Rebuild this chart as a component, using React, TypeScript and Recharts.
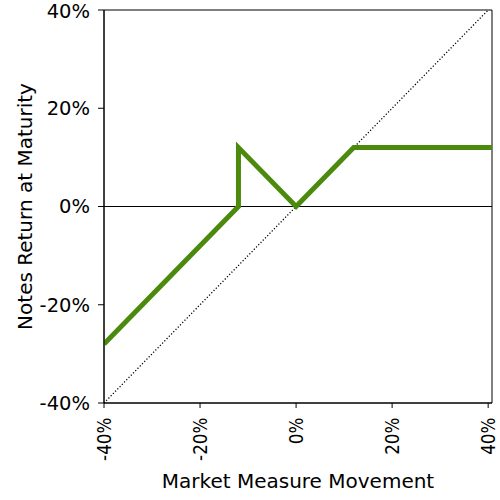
import {
  Label,
  Line,
  LineChart,
  ReferenceArea,
  ReferenceLine,
  XAxis,
  YAxis,
} from 'recharts';

const marketMove = [-40, -12, -12, 0, 12, 40.8];
const notesReturn = [-28, 0, 12, 0, 12, 12];
const axisTicks = [-40, -20, 0, 20, 40];

const data = marketMove.map((x, i) => ({ x, y: notesReturn[i] }));

const FONT = '"DejaVu Sans", sans-serif';

// rotated labels in the source are a bit squeezed along their length
function XTick({ x, y, payload }: any) {
  return (
    <g transform={`translate(${x},${y})`}>
      <text
        transform="rotate(-90) scale(0.84,1)"
        textAnchor="end"
        dy="0.36em"
        x={-9}
        fontSize={20}
        fontFamily={FONT}
        fill="#000"
      >
        {`${payload.value}%`}
      </text>
    </g>
  );
}

export default function App() {
  return (
    <div style={{ position: 'absolute', left: 0, top: 0, background: '#fff' }}>
      <LineChart
        width={500}
        height={500}
        data={data}
        margin={{ top: 10, right: 8, left: 0, bottom: 0 }}
      >
        <XAxis
          type="number"
          dataKey="x"
          domain={[-40, 40.8]}
          ticks={axisTicks}
          allowDataOverflow
          height={97}
          tickSize={5}
          tickLine={{ stroke: '#000' }}
          axisLine={{ stroke: '#000' }}
          tick={<XTick />}
        >
          <Label
            content={({ viewBox }: any) => (
              <text
                x={viewBox.x + viewBox.width / 2}
                y={488}
                textAnchor="middle"
                fontSize={20}
                fontFamily={FONT}
                fill="#000"
              >
                Market Measure Movement
              </text>
            )}
          />
        </XAxis>
        <YAxis
          type="number"
          domain={[-40, 40]}
          ticks={axisTicks}
          width={104}
          tickSize={6}
          tickMargin={8}
          tickLine={{ stroke: '#000' }}
          axisLine={{ stroke: '#000' }}
          tickFormatter={(v: number) => `${v}%`}
          tick={{ fill: '#000', fontSize: 19.5, fontFamily: FONT }}
        >
          <Label
            content={({ viewBox }: any) => {
              const cy = viewBox.y + viewBox.height / 2;
              return (
                <text
                  transform={`translate(32,${cy}) rotate(-90)`}
                  textAnchor="middle"
                  fontSize={20}
                  fontFamily={FONT}
                  fill="#000"
                >
                  Notes Return at Maturity
                </text>
              );
            }}
          />
        </YAxis>
        <ReferenceArea
          x1={-40}
          x2={40.8}
          y1={-40}
          y2={40}
          fill="none"
          stroke="#000"
          strokeWidth={1}
          fillOpacity={0}
          ifOverflow="visible"
        />
        <ReferenceLine y={0} stroke="#000" strokeWidth={1} />
        <ReferenceLine
          segment={[
            { x: -40, y: -40 },
            { x: 40, y: 40 },
          ]}
          stroke="#000"
          strokeWidth={1.3}
          strokeDasharray="1.2 2"
        />
        <Line
          type="linear"
          dataKey="y"
          stroke="#4C8A0E"
          strokeWidth={5}
          dot={false}
          isAnimationActive={false}
        />
      </LineChart>
    </div>
  );
}
